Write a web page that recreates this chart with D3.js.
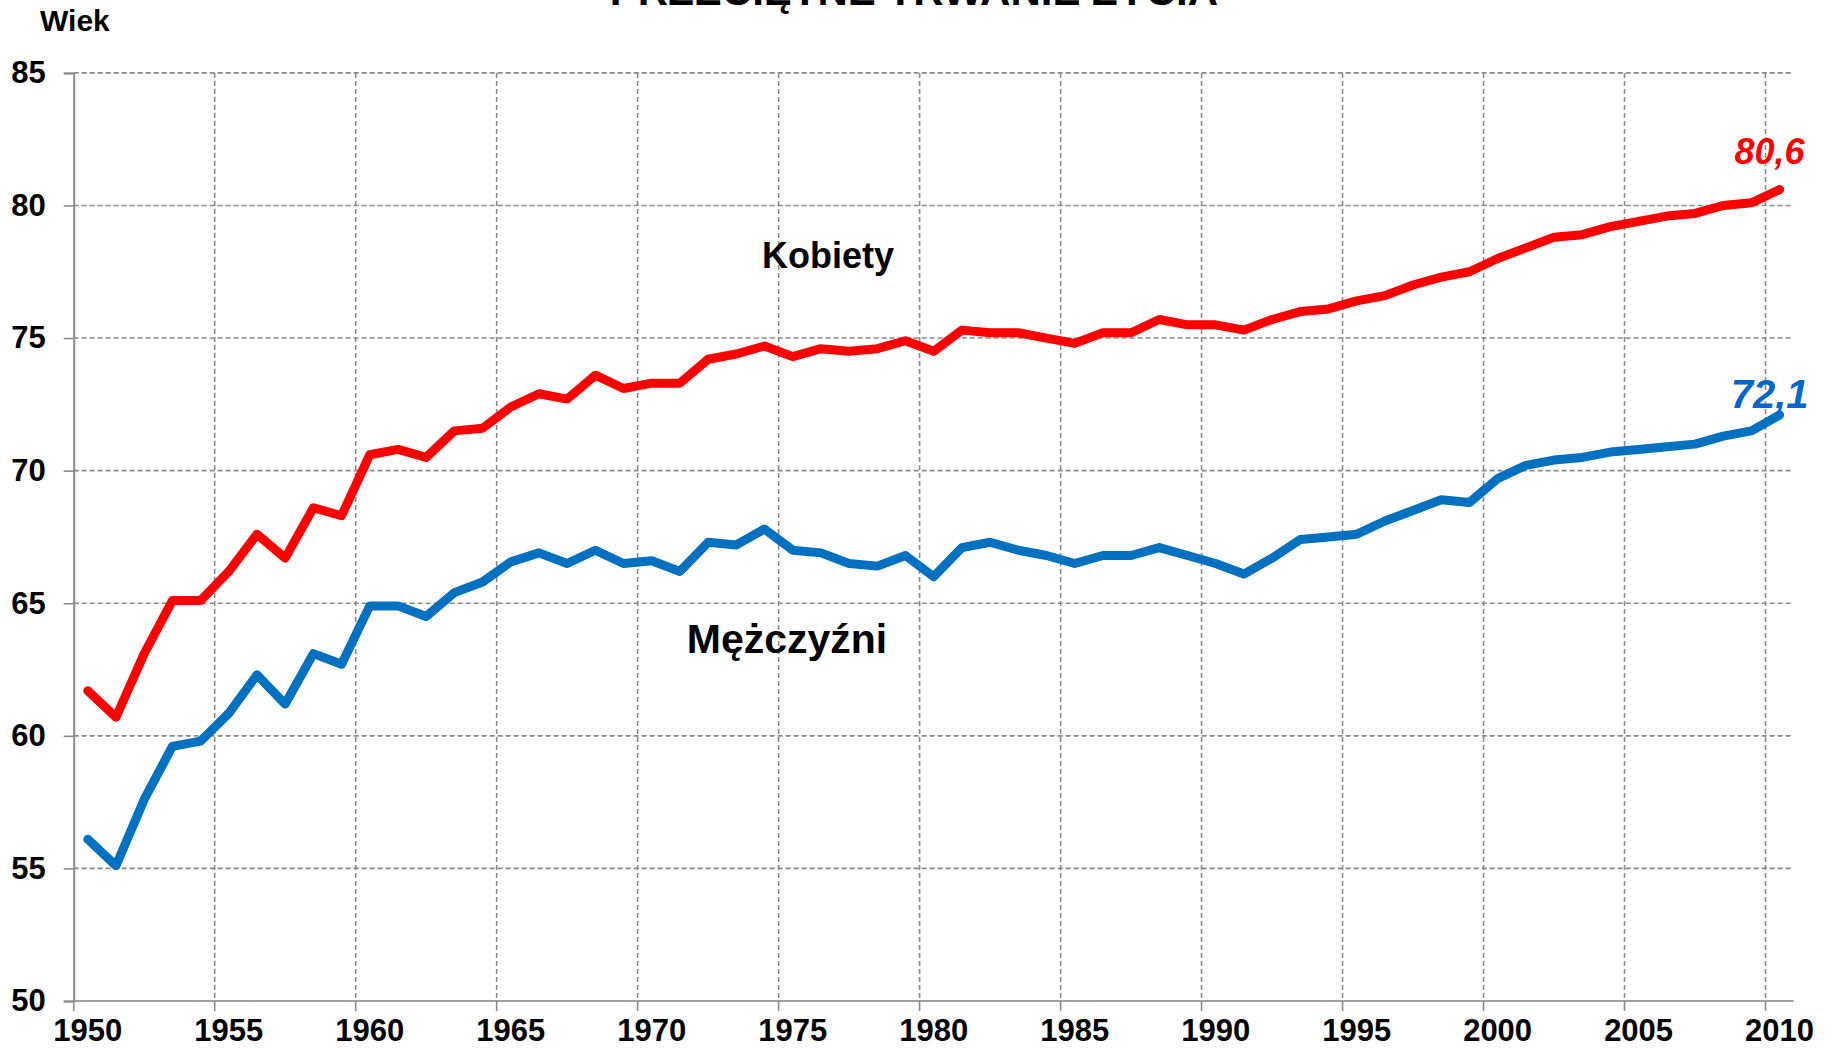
<!DOCTYPE html>
<html>
<head>
<meta charset="utf-8">
<script src="https://cdn.jsdelivr.net/npm/d3@7"></script>
<style>
  html, body { margin: 0; padding: 0; background: #fff; }
  svg { display: block; }
  text { font-family: "Liberation Sans", Arial, sans-serif; font-weight: bold; }
</style>
</head>
<body>
<svg id="chart" width="1831" height="1049"></svg>
<script>
const years = d3.range(1950, 2011);
const women = [61.7,60.7,63.1,65.1,65.1,66.2,67.6,66.7,68.6,68.3,
  70.6,70.8,70.5,71.5,71.6,72.4,72.9,72.7,73.6,73.1,
  73.3,73.3,74.2,74.4,74.7,74.3,74.6,74.5,74.6,74.9,
  74.5,75.3,75.2,75.2,75.0,74.8,75.2,75.2,75.7,75.5,
  75.5,75.3,75.7,76.0,76.1,76.4,76.6,77.0,77.3,77.5,
  78.0,78.4,78.8,78.9,79.2,79.4,79.6,79.7,80.0,80.1,80.6];
const men = [56.1,55.1,57.6,59.6,59.8,60.85,62.3,61.2,63.1,62.7,
  64.9,64.9,64.5,65.4,65.8,66.56,66.9,66.5,67.0,66.5,
  66.6,66.2,67.3,67.2,67.8,67.0,66.9,66.5,66.4,66.8,
  66.0,67.1,67.3,67.0,66.8,66.5,66.8,66.8,67.1,66.8,
  66.5,66.1,66.7,67.4,67.5,67.6,68.1,68.5,68.9,68.8,
  69.7,70.2,70.4,70.5,70.7,70.8,70.9,71.0,71.3,71.5,72.1];
const xTickYears = [1950,1955,1960,1965,1970,1975,1980,1985,1990,1995,2000,2005,2010];
const yTicks = [50,55,60,65,70,75,80,85];
const title = "PRZECIĘTNE TRWANIE ŻYCIA";
const yAxisTitle = "Wiek";
const seriesNames = ["Kobiety", "Mężczyźni"];
const endLabels = ["80,6", "72,1"];

const svg = d3.select("#chart");
const x = d3.scaleLinear().domain([1950, 2011]).range([73.7, 1793.7]);
const y = d3.scaleLinear().domain([50, 85]).range([1001, 72.9]);

const grid = svg.append("g");
// horizontal gridlines
grid.selectAll("line.h").data(yTicks.filter(v => v > 50)).join("line")
  .attr("x1", x(1950)).attr("x2", x(2011))
  .attr("y1", d => y(d)).attr("y2", d => y(d))
  .attr("stroke", "#8a8a8a").attr("stroke-width", 1.6).attr("stroke-dasharray", "5,3");
// vertical gridlines
grid.selectAll("line.v").data(xTickYears.filter(v => v > 1950)).join("line")
  .attr("x1", d => x(d)).attr("x2", d => x(d))
  .attr("y1", y(85)).attr("y2", y(50))
  .attr("stroke", "#8a8a8a").attr("stroke-width", 1.6).attr("stroke-dasharray", "5,3");

// y axis
const yAxis = d3.axisLeft(y).tickValues(yTicks).tickSize(10).tickPadding(18);
const gy = svg.append("g").attr("transform", `translate(${x(1950)},0)`).call(yAxis);
gy.select(".domain").attr("stroke", "#8a8a8a").attr("stroke-width", 2);
gy.selectAll(".tick line").attr("stroke", "#8a8a8a").attr("stroke-width", 1.6);
gy.selectAll(".tick text").attr("font-size", 31).attr("fill", "#000")
  .attr("font-family", "'Liberation Sans', Arial, sans-serif").attr("font-weight", "bold");

// x axis: ticks at category boundaries, labels centered in category
const gx = svg.append("g").attr("transform", `translate(0,${y(50)})`);
gx.append("line").attr("x1", x(1950)).attr("x2", x(2011)).attr("y1", 0).attr("y2", 0)
  .attr("stroke", "#a0a0a0").attr("stroke-width", 2.2);
gx.selectAll("line.t").data(xTickYears).join("line")
  .attr("x1", d => x(d)).attr("x2", d => x(d)).attr("y1", 0).attr("y2", 10)
  .attr("stroke", "#8a8a8a").attr("stroke-width", 1.6);
gx.selectAll("text").data(xTickYears).join("text")
  .attr("x", d => x(d + 0.5)).attr("y", 39.5)
  .attr("text-anchor", "middle").attr("font-size", 31).attr("fill", "#000")
  .text(d => d);

// lines
const line = d3.line().x((d, i) => x(years[i] + 0.5)).y(d => y(d));
svg.append("path").datum(women).attr("d", line)
  .attr("fill", "none").attr("stroke", "#ff0000").attr("stroke-width", 9)
  .attr("stroke-linejoin", "round").attr("stroke-linecap", "round");
svg.append("path").datum(men).attr("d", line)
  .attr("fill", "none").attr("stroke", "#0070c0").attr("stroke-width", 9)
  .attr("stroke-linejoin", "round").attr("stroke-linecap", "round");

// titles
svg.append("text").attr("x", 914).attr("y", 5).attr("text-anchor", "middle")
  .attr("font-size", 42).attr("fill", "#000").text(title);
svg.append("text").attr("x", 40).attr("y", 31).attr("font-size", 30).attr("fill", "#000").text(yAxisTitle);

// series labels
svg.append("text").attr("x", 828).attr("y", 268).attr("text-anchor", "middle")
  .attr("font-size", 36).attr("fill", "#000").text(seriesNames[0]);
svg.append("text").attr("x", 787).attr("y", 653).attr("text-anchor", "middle")
  .attr("font-size", 41).attr("fill", "#000").text(seriesNames[1]);

// end labels
const lastX = x(years[years.length - 1] + 0.5);
svg.append("text").attr("x", lastX - 10).attr("y", y(women[women.length - 1]) - 26)
  .attr("text-anchor", "middle").attr("font-size", 36).attr("font-style", "italic")
  .attr("fill", "#ff0000").text(endLabels[0]);
svg.append("text").attr("x", lastX - 10).attr("y", y(men[men.length - 1]) - 7)
  .attr("text-anchor", "middle").attr("font-size", 40).attr("font-style", "italic")
  .attr("fill", "#0066cc").text(endLabels[1]);
</script>
</body>
</html>
